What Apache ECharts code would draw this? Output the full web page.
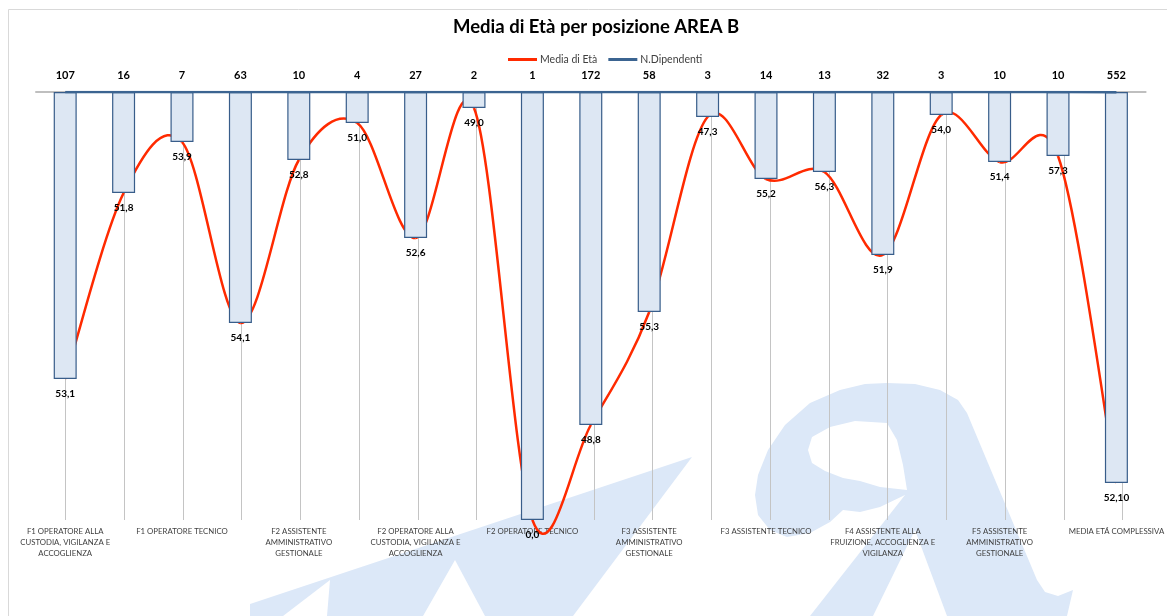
<!DOCTYPE html>
<html>
<head>
<meta charset="utf-8">
<title>Media di Età per posizione AREA B</title>
<script src="https://cdn.jsdelivr.net/npm/echarts@6/dist/echarts.min.js"></script>
<style>
  html, body { margin: 0; padding: 0; background: #fff; }
  #singleColumnChart { width: 1167px; height: 616px; }
</style>
</head>
<body>
<div id="singleColumnChart"></div>
<script>
// categorie (Excel mostra un'etichetta ogni due colonne)
const categories = [
  'F1 OPERATORE ALLA\nCUSTODIA, VIGILANZA E\nACCOGLIENZA', '',
  'F1 OPERATORE TECNICO', '',
  'F2 ASSISTENTE\nAMMINISTRATIVO\nGESTIONALE', '',
  'F2 OPERATORE ALLA\nCUSTODIA, VIGILANZA E\nACCOGLIENZA', '',
  'F2 OPERATORE TECNICO', '',
  'F3 ASSISTENTE\nAMMINISTRATIVO\nGESTIONALE', '',
  'F3 ASSISTENTE TECNICO', '',
  'F4 ASSISTENTE ALLA\nFRUIZIONE, ACCOGLIENZA E\nVIGILANZA', '',
  'F5 ASSISTENTE\nAMMINISTRATIVO\nGESTIONALE', '',
  'MEDIA ETÁ COMPLESSIVA'
];
const nDipendenti = [107, 16, 7, 63, 10, 4, 27, 2, 1, 172, 58, 3, 14, 13, 32, 3, 10, 10, 552];
const mediaEtaLabels = ['53,1', '51,8', '53,9', '54,1', '52,8', '51,0', '52,6', '49,0', '0,0', '48,8',
  '55,3', '47,3', '55,2', '56,3', '51,9', '54,0', '51,4', '57,3', '52,10'];
// lunghezza delle colonne (asse rovesciato, 0 in alto)
const barLength = [287, 101, 50, 231, 68, 31, 146, 16, 428, 333, 220, 25, 87, 80, 163, 23, 70, 64, 391];
// livello dei punti della linea "Media di Età" sullo stesso asse
const lineLevel = [287, 101, 50, 231, 68, 31, 146, 16, 428, 333, 220, 25, 87, 80, 163, 23, 70, 64, 391];

let myChart = null;

// linea smussata come in Excel (Catmull-Rom), un tratto per punto + etichetta
function renderMediaEta(params, api) {
  const i = params.dataIndex;
  const n = lineLevel.length;
  const pt = (k) => {
    const j = Math.max(0, Math.min(n - 1, k));
    return api.coord([j, lineLevel[j]]);
  };
  const p0 = pt(i - 1);
  const p1 = pt(i);
  const p2 = pt(i + 1);
  const p3 = pt(i + 2);
  const children = [];
  if (i < n - 1) {
    children.push({
      type: 'bezierCurve',
      shape: {
        x1: p1[0], y1: p1[1], x2: p2[0], y2: p2[1],
        cpx1: p1[0] + (p2[0] - p0[0]) / 6, cpy1: p1[1] + (p2[1] - p0[1]) / 6,
        cpx2: p2[0] - (p3[0] - p1[0]) / 6, cpy2: p2[1] - (p3[1] - p1[1]) / 6,
      },
      style: { stroke: '#ff2a00', lineWidth: 2.5, fill: null },
    });
  }
  children.push({
    type: 'text',
    x: p1[0],
    y: p1[1] + 10,
    z2: 10,
    style: {
      text: mediaEtaLabels[i],
      align: 'center',
      verticalAlign: 'top',
      fill: '#000',
      font: 'bold 10px Lato, "Open Sans", sans-serif',
    },
  });
  return { type: 'group', children };
}

function initChart() {
  const dom = document.getElementById('singleColumnChart');
  if (dom) {
    myChart = echarts.init(dom);
    setOption();
  }
}

function setOption() {
  const font = 'Lato, "Open Sans", sans-serif';
  const watermark = '#dce8f8';
  const plotW = 1167 - 36 - 15;
  const half = plotW / categories.length / 2;
  const options = {
    animation: false,
    backgroundColor: '#fff',
    textStyle: { fontFamily: font },
    title: {
      text: 'Media di Età per posizione AREA B',
      left: 453,
      top: 18,
      padding: 0,
      textStyle: { color: '#000', fontSize: 18.5, fontWeight: 'bold', fontFamily: font },
    },
    legend: {
      data: ['Media di Età', 'N.Dipendenti'],
      left: 508,
      top: 54,
      padding: 0,
      icon: 'rect',
      itemWidth: 29,
      itemHeight: 3,
      itemGap: 11,
      textStyle: { color: '#404040', fontSize: 10.5, padding: [0, 0, 0, -2] },
    },
    graphic: [
      // logo in filigrana
      {
        type: 'polygon', z: -10, silent: true,
        shape: { points: [[250, 604], [692, 457], [573, 616], [485, 616], [455, 560], [423, 616], [327, 616], [330, 580], [283, 616], [250, 616]] },
        style: { fill: watermark },
      },
      {
        type: 'polygon', z: -10, silent: true,
        shape: { points: [[787, 537], [770, 530], [758, 515], [755, 495], [758, 475], [768, 450], [785, 425], [810, 403],
          [840, 390], [865, 384], [887, 383], [915, 384], [940, 390], [958, 400], [967, 413], [1037, 580], [1045, 592],
          [1058, 596], [1073, 590], [1067, 616], [947, 616], [915, 530], [873, 616], [810, 616], [905, 495], [880, 507],
          [860, 512], [843, 510], [830, 522], [810, 533]] },
        style: { fill: watermark },
      },
      {
        type: 'polygon', z: -9, silent: true,
        shape: { points: [[808, 450], [812, 437], [830, 427], [855, 421], [887, 423], [897, 440], [903, 465], [907, 490],
          [880, 487], [860, 481], [843, 478], [825, 471], [812, 463]] },
        style: { fill: '#fff' },
      },
      {
        type: 'rect', z: -8, silent: true,
        shape: { x: 8.5, y: 9.5, width: 1200, height: 700 },
        style: { fill: 'none', stroke: '#d9d9d9', lineWidth: 1 },
      },
    ],
    grid: [
      { left: 36, right: 15, top: 92, bottom: 96, containLabel: false },
      // griglia spostata di mezza categoria: linee verticali al centro delle colonne
      { left: 36 + half, right: 15 + half, top: 92, bottom: 96, containLabel: false },
    ],
    xAxis: [
      {
        type: 'category',
        gridIndex: 0,
        data: categories,
        axisLine: { lineStyle: { color: '#bfbfbf', width: 2 } },
        axisTick: { show: false },
        axisLabel: {
          interval: 0,
          margin: 6,
          color: '#404040',
          fontSize: 7.8,
          lineHeight: 11,
          fontFamily: font,
        },
        splitLine: { show: false },
        z: 1,
      },
      {
        type: 'category',
        gridIndex: 1,
        data: categories,
        boundaryGap: false,
        axisLine: { show: false },
        axisTick: { show: false },
        axisLabel: { show: false },
        splitLine: { show: true, interval: 0, lineStyle: { color: '#c4c4c4', width: 1 } },
        z: 0,
      },
    ],
    yAxis: [
      { type: 'value', gridIndex: 0, inverse: true, min: 0, max: 428, show: false, splitLine: { show: false } },
      { type: 'value', gridIndex: 0, inverse: true, min: 0, max: 1000000, show: false, splitLine: { show: false } },
      { type: 'value', gridIndex: 1, show: false, splitLine: { show: false } },
    ],
    series: [
      {
        name: 'Colonne',
        type: 'bar',
        yAxisIndex: 0,
        data: barLength,
        barWidth: 23,
        z: 3,
        itemStyle: { color: '#dde7f3', borderColor: '#385d8a', borderWidth: 1.2 },
      },
      {
        name: 'Media di Età',
        type: 'custom',
        yAxisIndex: 0,
        data: lineLevel.map((v, i) => [i, v]),
        encode: { x: 0, y: 1 },
        renderItem: renderMediaEta,
        clip: false,
        z: 2,
        itemStyle: { color: '#ff2a00' },
      },
      {
        name: 'N.Dipendenti',
        type: 'line',
        yAxisIndex: 1,
        data: nDipendenti,
        symbol: 'circle',
        symbolSize: 0,
        z: 4,
        lineStyle: { color: '#3b6491', width: 2.5 },
        itemStyle: { color: '#3b6491' },
        label: {
          show: true,
          position: 'top',
          distance: 11,
          color: '#000',
          fontSize: 11,
          fontWeight: 'bold',
        },
      },
    ],
  };
  if (myChart) {
    myChart.setOption(options);
  }
}

initChart();
</script>
</body>
</html>
